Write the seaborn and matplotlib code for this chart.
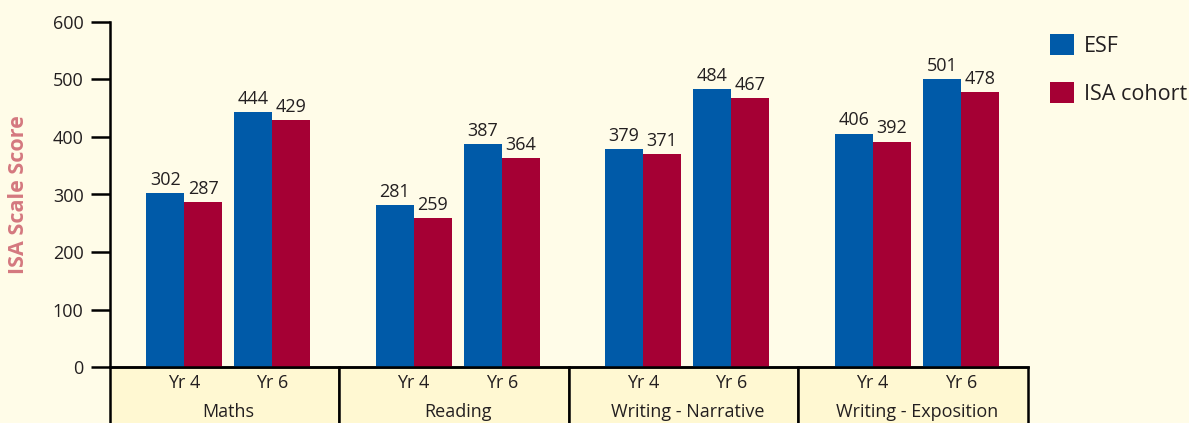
import numpy as np
import pandas as pd
import seaborn as sns
import matplotlib
matplotlib.use("Agg")
import matplotlib.pyplot as plt
import matplotlib.transforms as mtransforms
from matplotlib.patches import Rectangle

# ---- data ----
subjects = ["Maths", "Reading", "Writing - Narrative", "Writing - Exposition"]
years = ["Yr 4", "Yr 6"]
series_names = ["ESF", "ISA cohort"]
esf_scores = [302, 444, 281, 387, 379, 484, 406, 501]
isa_scores = [287, 429, 259, 364, 371, 467, 392, 478]
y_ticks = [0, 100, 200, 300, 400, 500, 600]

# ---- style ----
BG = "#FFFCE8"
BOX = "#FFF8D2"
BLUE = "#005AA8"
RED = "#A50034"
TXT = "#231F20"
GROUP_STEP = 2.6
HALF = 0.84

sns.set_style("white")
plt.rcParams["font.family"] = ["Open Sans", "DejaVu Sans"]

rows = []
for g, subj in enumerate(subjects):
    for j, yr in enumerate(years):
        i = g * 2 + j
        pos = g * GROUP_STEP + j
        rows.append(dict(subject=subj, year=yr, pos=pos, series=series_names[0], value=esf_scores[i]))
        rows.append(dict(subject=subj, year=yr, pos=pos, series=series_names[1], value=isa_scores[i]))
df = pd.DataFrame(rows)

fig = plt.figure(figsize=(11.89, 4.23), dpi=100, facecolor=BG)
ax = fig.add_axes([110 / 1189, 1 - 367 / 423, (1028 - 110) / 1189, 345 / 423])
ax.set_facecolor(BG)

sns.barplot(data=df, x="pos", y="value", hue="series", hue_order=series_names,
            native_scale=True, palette=[BLUE, RED], width=0.86, saturation=1,
            linewidth=0, ax=ax, legend=True)

for cont in ax.containers:
    ax.bar_label(cont, fmt="%d", padding=3, fontsize=13, color=TXT)

ax.set_xlim(-HALF, 3 * GROUP_STEP + GROUP_STEP - HALF)
ax.set_ylim(0, 600)
ax.set_yticks(y_ticks)
ax.set_xticks([])
ax.set_xlabel("")
ax.tick_params(axis="y", direction="out", length=14, width=1.8, pad=5,
               labelsize=13, labelcolor=TXT, color="black", left=True)
for s in ["top", "right"]:
    ax.spines[s].set_visible(False)
for s in ["left", "bottom"]:
    ax.spines[s].set_color("black")
    ax.spines[s].set_linewidth(1.8)

ax.set_ylabel("ISA Scale Score", fontsize=15.5, fontweight="bold", color="#D4787F")
ax.yaxis.set_label_coords(-0.088, 0.5)

# category boxes below the axis
trans = mtransforms.blended_transform_factory(ax.transData, ax.transAxes)
for g, subj in enumerate(subjects):
    left = g * GROUP_STEP - HALF
    ax.add_patch(Rectangle((left, -0.3), GROUP_STEP, 0.3, transform=trans,
                           facecolor=BOX, edgecolor="black", linewidth=1.8,
                           clip_on=False, zorder=0))
    for j, yr in enumerate(years):
        ax.text(g * GROUP_STEP + j, -0.047, yr, transform=trans, ha="center",
                va="center", fontsize=13, color=TXT, clip_on=False)
    ax.text(g * GROUP_STEP + 0.5, -0.13, subj, transform=trans, ha="center",
            va="center", fontsize=13, color=TXT, clip_on=False)

# legend
handles, labels = ax.get_legend_handles_labels()
if ax.get_legend() is not None:
    ax.get_legend().remove()
fig.legend(handles, labels, loc="upper left",
           bbox_to_anchor=(1050 / 1189, 1 - 34 / 423),
           bbox_transform=fig.transFigure, frameon=False, fontsize=15.5,
           handlelength=1.12, handleheight=1.15, handletextpad=0.45,
           labelspacing=1.15, borderpad=0, borderaxespad=0, labelcolor=TXT)

fig.savefig("out.png", dpi=100, facecolor=BG)
